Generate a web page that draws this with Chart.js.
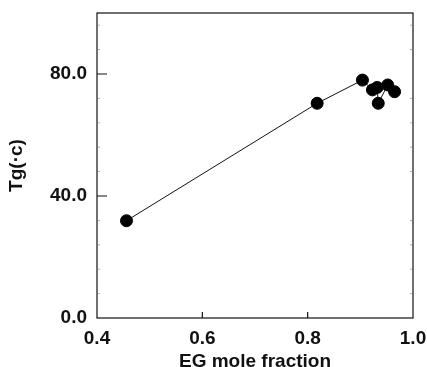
<!DOCTYPE html>
<html lang="en">
<head>
<meta charset="UTF-8">
<title>Tg vs EG mole fraction</title>
<script src="https://cdn.jsdelivr.net/npm/chart.js"></script>
<style>
  html, body { margin: 0; padding: 0; background: #fff; }
  #wrap { width: 427px; height: 367px; }
</style>
</head>
<body>
<div id="wrap"><canvas id="tg-chart" width="427" height="367"></canvas></div>
<script>
  // values
  const egFraction = [0.456, 0.818, 0.904, 0.923, 0.932, 0.934, 0.952, 0.965];
  const tgValues = [31.9, 70.4, 78.0, 74.8, 75.6, 70.4, 76.4, 74.2];
  const xTicks = [0.4, 0.6, 0.8, 1.0];
  const yTicks = [0, 40, 80];
  const yMinor = [8, 16, 24, 32, 48, 56, 64, 72, 88, 96];

  // frame + inward ticks, like the original plot
  const frameTicks = {
    id: 'frameTicks',
    afterDraw(chart) {
      const { ctx, chartArea: a, scales } = chart;
      ctx.save();
      ctx.strokeStyle = '#111';
      ctx.lineWidth = 1.2;
      ctx.strokeRect(a.left, a.top, a.right - a.left, a.bottom - a.top);
      ctx.beginPath();
      yTicks.forEach(v => {
        const y = scales.y.getPixelForValue(v);
        if (v > 0) { ctx.moveTo(a.left, y); ctx.lineTo(a.left + 10, y); }
      });
      xTicks.forEach(v => {
        const x = scales.x.getPixelForValue(v);
        if (v > 0.4 && v < 1.0) { ctx.moveTo(x, a.bottom); ctx.lineTo(x, a.bottom - 6); }
      });
      ctx.stroke();
      ctx.lineWidth = 0.6;
      ctx.strokeStyle = '#777';
      ctx.beginPath();
      yMinor.forEach(v => {
        const y = scales.y.getPixelForValue(v);
        ctx.moveTo(a.left, y); ctx.lineTo(a.left + 3, y);
        ctx.moveTo(a.right, y); ctx.lineTo(a.right - 3, y);
      });
      ctx.stroke();
      ctx.restore();
    }
  };

  new Chart(document.getElementById('tg-chart').getContext('2d'), {
    type: 'scatter',
    data: {
      datasets: [{
        data: egFraction.map((x, i) => ({ x: x, y: tgValues[i] })),
        showLine: true,
        borderColor: '#111',
        borderWidth: 1,
        backgroundColor: '#000',
        pointBackgroundColor: '#000',
        pointBorderColor: '#000',
        pointRadius: 6,
        pointHoverRadius: 6
      }]
    },
    options: {
      responsive: false,
      animation: false,
      layout: { padding: { top: 13, right: 14, left: 0, bottom: 0 } },
      plugins: { legend: { display: false }, tooltip: { enabled: false } },
      scales: {
        x: {
          type: 'linear',
          min: 0.4,
          max: 1.0,
          afterBuildTicks: s => { s.ticks = xTicks.map(v => ({ value: v })); },
          afterFit: s => { s.height = 49; s.paddingLeft = 0; s.paddingRight = 0; },
          grid: { display: false, drawTicks: false },
          border: { display: false },
          ticks: {
            color: '#111',
            padding: 9,
            font: { family: 'Liberation Sans, Arial', size: 19, weight: 'bold' },
            callback: v => v.toFixed(1)
          },
          title: {
            display: true,
            text: 'EG mole fraction',
            color: '#111',
            padding: { top: 7, bottom: -6 },
            font: { family: 'Liberation Sans, Arial', size: 19, weight: 'bold' }
          }
        },
        y: {
          type: 'linear',
          min: 0,
          max: 100,
          afterBuildTicks: s => { s.ticks = yTicks.map(v => ({ value: v })); },
          afterFit: s => { s.width = 97; s.paddingTop = 0; s.paddingBottom = 0; },
          grid: { display: false, drawTicks: false },
          border: { display: false },
          ticks: {
            color: '#111',
            padding: 10,
            font: { family: 'Liberation Sans, Arial', size: 19, weight: 'bold' },
            callback: v => v.toFixed(1)
          },
          title: {
            display: true,
            text: 'Tg(\u00b7c)',
            color: '#111',
            padding: { top: 5, bottom: 0 },
            font: { family: 'Liberation Sans, Arial', size: 19, weight: 'bold' }
          }
        }
      }
    },
    plugins: [frameTicks]
  });
</script>
</body>
</html>
